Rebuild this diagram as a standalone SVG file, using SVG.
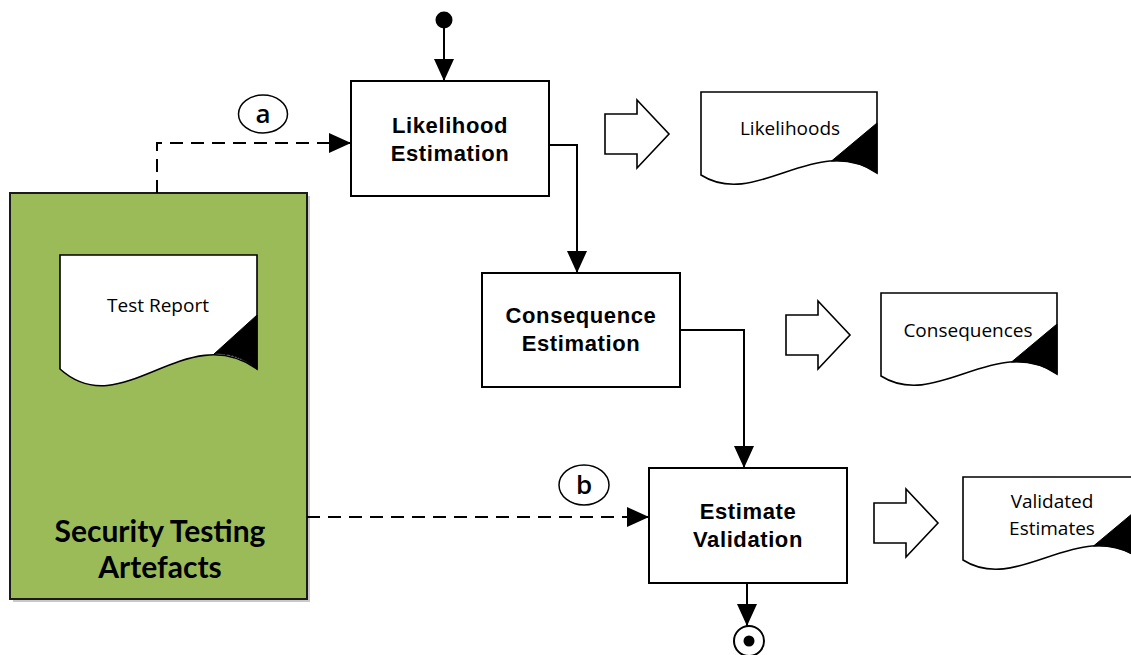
<svg xmlns="http://www.w3.org/2000/svg" width="1131" height="655" viewBox="0 0 1131 655">
  <style>
    .proc { fill: #ffffff; stroke: #000000; stroke-width: 2; }
    .doc { fill: #ffffff; stroke: #000000; stroke-width: 1.6; }
    .fold { fill: #000000; stroke: #000000; stroke-width: 1; }
    .fat { fill: #ffffff; stroke: #000000; stroke-width: 1.6; stroke-linejoin: miter; }
    .flow { fill: none; stroke: #000000; stroke-width: 2; }
    .dash { fill: none; stroke: #000000; stroke-width: 2; stroke-dasharray: 13 8; }
    .ptext { font-family: "Liberation Sans", Arial, sans-serif; font-weight: bold; font-size: 22px; letter-spacing: 0.6px; fill: #000000; text-anchor: middle; }
    .dtext { font-family: "Open Sans", Lato, sans-serif; font-weight: 500; font-size: 19px; fill: #000000; text-anchor: middle; }
    .big { font-family: Lato, "Open Sans", sans-serif; font-weight: bold; font-size: 30px; fill: #000000; text-anchor: middle; }
    .tag { fill: #ffffff; stroke: #000000; stroke-width: 1.5; }
    .tagtext { font-family: "Open Sans", Lato, sans-serif; font-weight: 600; font-size: 26px; fill: #000000; text-anchor: middle; }
  </style>
  <defs>
    <marker id="head" markerUnits="userSpaceOnUse" markerWidth="22" markerHeight="22" viewBox="0 0 22 22" refX="22" refY="11" orient="auto">
      <path d="M0,1 L22,11 L0,21 Z" fill="#000000"/>
    </marker>
    <!-- document outline, 176 wide, wavy bottom -->
    <path id="docShape" d="M0,0 H176 V81 C115,40 55,118 0,83 Z"/>
    <path id="docFold" d="M176,31 L130.5,69 C145.6,67.9 160.8,70.8 176,81 Z"/>
    <path id="fatArrow" d="M0,-20 H32 V-34 L64,0 L32,34 V20 H0 Z"/>
  </defs>

  <rect width="1131" height="655" fill="#ffffff"/>

  <!-- source artefacts -->
  <g id="artefacts">
    <rect x="13" y="196" width="297" height="406" fill="#c9c9c9"/>
    <rect x="10" y="193" width="297" height="406" fill="#9bbb59" stroke="#1a1a1a" stroke-width="2"/>
    <text class="big" x="160" y="542">Security Testing</text>
    <text class="big" x="160" y="578">Artefacts</text>
  </g>

  <g id="test-report">
    <path class="doc" d="M60,255 H257 V369 C185,318 122,425 60,369 Z"/>
    <path class="fold" d="M257,315 L214,354 C228,353 242,357 257,369 Z"/>
    <text class="dtext" x="158" y="312">Test Report</text>
  </g>

  <!-- process steps -->
  <g id="likelihood-estimation">
    <rect class="proc" x="351" y="81" width="198" height="115"/>
    <text class="ptext" x="450" y="133">Likelihood</text>
    <text class="ptext" x="450" y="161">Estimation</text>
  </g>

  <g id="consequence-estimation">
    <rect class="proc" x="482" y="273" width="198" height="114"/>
    <text class="ptext" x="581" y="323">Consequence</text>
    <text class="ptext" x="581" y="351">Estimation</text>
  </g>

  <g id="estimate-validation">
    <rect class="proc" x="649" y="468" width="198" height="115"/>
    <text class="ptext" x="748" y="519">Estimate</text>
    <text class="ptext" x="748" y="547">Validation</text>
  </g>

  <!-- outputs -->
  <g id="likelihoods">
    <use href="#fatArrow" class="fat" transform="translate(605,134)"/>
    <g transform="translate(701,92)">
      <use href="#docShape" class="doc"/>
      <use href="#docFold" class="fold"/>
    </g>
    <text class="dtext" x="790" y="135">Likelihoods</text>
  </g>

  <g id="consequences">
    <use href="#fatArrow" class="fat" transform="translate(786,335)"/>
    <g transform="translate(881,293)">
      <use href="#docShape" class="doc"/>
      <use href="#docFold" class="fold"/>
    </g>
    <text class="dtext" x="968" y="337">Consequences</text>
  </g>

  <g id="validated-estimates">
    <use href="#fatArrow" class="fat" transform="translate(874,523)"/>
    <g transform="translate(963,477)">
      <use href="#docShape" class="doc"/>
      <use href="#docFold" class="fold"/>
    </g>
    <text class="dtext" x="1052" y="508">Validated</text>
    <text class="dtext" x="1052" y="535">Estimates</text>
  </g>

  <!-- start and end points -->
  <g id="start">
    <circle cx="444" cy="20" r="8.5" fill="#000000"/>
  </g>
  <g id="end">
    <circle cx="749" cy="641" r="15" fill="#ffffff" stroke="#000000" stroke-width="2"/>
    <circle cx="749" cy="641" r="5.5" fill="#000000"/>
  </g>

  <!-- labels on the input flows -->
  <g id="label-a">
    <ellipse class="tag" cx="263" cy="114" rx="24.5" ry="19"/>
    <text class="tagtext" x="263" y="123">a</text>
  </g>
  <g id="label-b">
    <ellipse class="tag" cx="584" cy="485" rx="25" ry="20"/>
    <text class="tagtext" x="584" y="494">b</text>
  </g>

  <!-- connectors -->
  <g id="connectors">
    <path class="flow" d="M444,20 V81" marker-end="url(#head)"/>
    <path class="flow" d="M549,145 H577 V273" marker-end="url(#head)"/>
    <path class="flow" d="M680,330 H744 V468" marker-end="url(#head)"/>
    <path class="flow" d="M747,583 V626" marker-end="url(#head)"/>
    <path class="dash" d="M157,193 V143 H351" marker-end="url(#head)"/>
    <path class="dash" d="M307,517 H649" marker-end="url(#head)"/>
  </g>
</svg>
